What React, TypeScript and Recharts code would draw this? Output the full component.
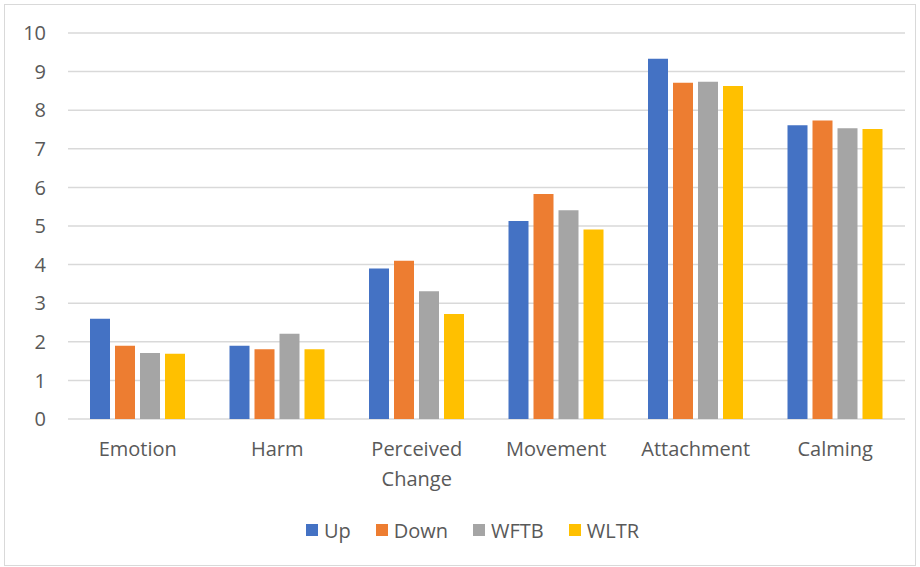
import { BarChart, Bar, XAxis, YAxis, CartesianGrid, Legend } from "recharts";

const categories = ["Emotion", "Harm", "Perceived Change", "Movement", "Attachment", "Calming"];
const up = [2.6, 1.9, 3.9, 5.13, 9.33, 7.61];
const down = [1.9, 1.81, 4.1, 5.83, 8.71, 7.73];
const wftb = [1.71, 2.21, 3.31, 5.41, 8.74, 7.53];
const wltr = [1.69, 1.81, 2.72, 4.91, 8.63, 7.51];
const yTicks = [0, 1, 2, 3, 4, 5, 6, 7, 8, 9, 10];

const series = [
  { key: "Up", color: "#4472C4" },
  { key: "Down", color: "#ED7D31" },
  { key: "WFTB", color: "#A5A5A5" },
  { key: "WLTR", color: "#FFC000" },
];

const data = categories.map((name, i) => ({
  name,
  Up: up[i],
  Down: down[i],
  WFTB: wftb[i],
  WLTR: wltr[i],
}));

const FONT = "'Open Sans', sans-serif";
const TEXT = "#595959";

const CategoryTick = (props: any) => {
  const { x, y, payload } = props;
  const lines = String(payload.value).split(" ");
  return (
    <text x={x} y={y} textAnchor="middle" fill={TEXT} fontSize={20} fontFamily={FONT}>
      {lines.map((line, i) => (
        <tspan key={i} x={x} dy={i === 0 ? 31 : 30}>
          {line}
        </tspan>
      ))}
    </text>
  );
};

const LegendContent = () => (
  <div
    style={{
      height: 40,
      display: "flex",
      alignItems: "center",
      justifyContent: "center",
      gap: 25,
      fontFamily: FONT,
      fontSize: 20,
      color: TEXT,
      paddingLeft: 40,
    }}
  >
    {series.map((s) => (
      <div key={s.key} style={{ display: "flex", alignItems: "center", gap: 6 }}>
        <div style={{ width: 12, height: 12, background: s.color }} />
        <span>{s.key}</span>
      </div>
    ))}
  </div>
);

export default function App() {
  return (
    <div style={{ position: "absolute", left: 0, top: 0, width: 920, height: 567, background: "#fff" }}>
      <div
        style={{
          position: "absolute",
          left: 4,
          top: 4,
          width: 910,
          height: 560,
          border: "1px solid #d9d9d9",
        }}
      />
      <BarChart
        width={920}
        height={567}
        data={data}
        margin={{ top: 33, right: 15, left: 0, bottom: 17 }}
        barSize={20}
        barGap={5}
      >
        <CartesianGrid vertical={false} stroke="#d9d9d9" strokeWidth={1.5} />
        <XAxis
          dataKey="name"
          axisLine={false}
          tickLine={false}
          tickMargin={0}
          height={91}
          interval={0}
          tick={<CategoryTick />}
        />
        <YAxis
          width={68}
          domain={[0, 10]}
          ticks={yTicks}
          axisLine={false}
          tickLine={false}
          tickMargin={16}
          tick={{ fill: TEXT, fontSize: 20, fontFamily: FONT }}
        />
        <Legend verticalAlign="bottom" height={40} content={<LegendContent />} />
        {series.map((s) => (
          <Bar key={s.key} dataKey={s.key} fill={s.color} isAnimationActive={false} />
        ))}
      </BarChart>
    </div>
  );
}
